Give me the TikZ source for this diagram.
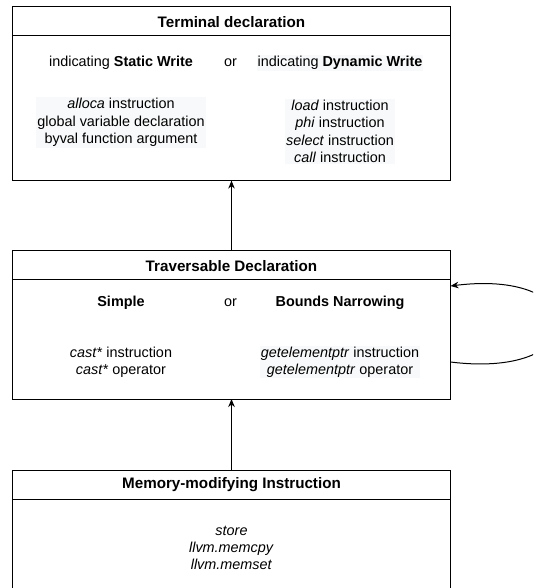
\documentclass[tikz,border=0pt]{standalone}
\usepackage{fontspec}
\setmainfont{Liberation Sans}
\usetikzlibrary{arrows.meta}
\definecolor{hl}{HTML}{F8F9FA}
\begin{document}
\begin{tikzpicture}[x=1pt,y=-1pt,
  box/.style={draw=black,line width=1pt,inner sep=0pt,outer sep=0pt,minimum width=438pt},
  ttl/.style={font=\fontsize{15.2}{18}\selectfont\bfseries,inner sep=1pt},
  txt/.style={font=\fontsize{14.4}{17.4}\selectfont,align=center,inner sep=1pt},
  hlt/.style={txt,fill=hl},
  arr/.style={line width=1pt,-{Stealth[length=8pt,width=6.5pt,inset=2.5pt]}}]
\useasboundingbox (0,0) rectangle (533,588);
\clip (0,0) rectangle (533,588);
% boxes
\node[box,minimum height=173.6pt] (term) at (231.5,93.8) {};
\node[box,minimum height=148.5pt] (trav) at (231.5,324.75) {};
\node[box,minimum height=150pt] (mem) at (231.5,545) {};
\draw[line width=1pt] (term.west |- 0,35.7) -- (term.east |- 0,35.7);
\draw[line width=1pt] (trav.west |- 0,279) -- (trav.east |- 0,279);
\draw[line width=1pt] (mem.west |- 0,499) -- (mem.east |- 0,499);
% terminal declaration
\node[ttl] (t1) at (231.5,22) {Terminal declaration};
\node[txt] (sw) at (121,63) {indicating \textbf{Static Write}};
\node[txt] (or1) at (230.6,63) {or};
\node[hlt] (dw) at (340,63) {indicating \textbf{Dynamic Write}};
\node[hlt] (sl) at (121,122.6) {\textit{alloca} instruction\\global variable declaration\\byval function argument};
\node[hlt] (dl) at (340,131.5) {\textit{load} instruction\\\textit{phi} instruction\\\textit{select} instruction\\\textit{call} instruction};
% traversable declaration
\node[ttl] (t2) at (231.5,266.5) {Traversable Declaration};
\node[txt,font=\fontsize{14.4}{17.4}\selectfont\bfseries] (simp) at (121,303) {Simple};
\node[txt] (or2) at (230.6,303) {or};
\node[txt,font=\fontsize{14.4}{17.4}\selectfont\bfseries] (bn) at (340,303) {Bounds Narrowing};
\node[txt] (cl) at (121,362) {\textit{cast*} instruction\\\textit{cast*} operator};
\node[hlt] (gl) at (340,362) {\textit{getelementptr} instruction\\\textit{getelementptr} operator};
% memory-modifying instruction
\node[ttl] (t3) at (231.5,484.6) {Memory-modifying Instruction};
\node[txt] (ml) at (231.5,548) {\textit{store}\\\textit{llvm.memcpy}\\\textit{llvm.memset}};
% connectors
\draw[arr] (trav.north) -- (term.south);
\draw[arr] (mem.north) -- (trav.south);
\draw[arr] (trav.east |- 0,362) .. controls (595,380) and (595,268) .. (trav.east |- 0,286);
\end{tikzpicture}
\end{document}
